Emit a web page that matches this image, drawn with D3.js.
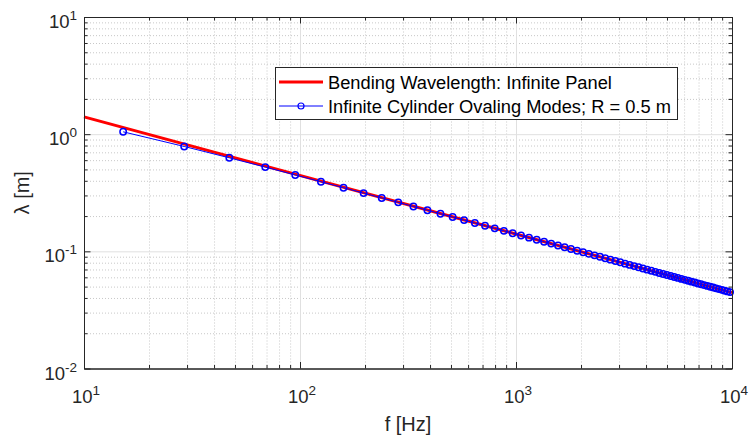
<!DOCTYPE html>
<html><head><meta charset="utf-8">
<script src="https://cdn.jsdelivr.net/npm/d3@7"></script>
<style>
html,body{margin:0;padding:0;background:#fff;}
svg{display:block;font-family:Arial,"Liberation Sans",Helvetica,sans-serif;}
</style></head>
<body>
<svg id="chart" width="749" height="439"></svg>
<script>
// ---- data ----
const xDomain = [10, 10000];
const yDomain = [0.01, 10];
const xMajorTicks = [10, 100, 1000, 10000];
const xTickExp = ["1", "2", "3", "4"];
const yMajorTicks = [0.01, 0.1, 1, 10];
const yTickExp = ["-2", "-1", "0", "1"];

const bendFreq = [10, 10000];
const bendLambda = [1.405, 0.0444];

const modeFreq = [15.18, 29.10, 47.07, 69.05, 95.04, 125.0, 159.0, 197.0, 239.0, 285.0,
  335.0, 389.0, 447.0, 509, 575, 645, 719, 797, 879, 965,
  1055, 1149, 1247, 1349, 1455, 1565, 1679, 1797, 1919, 2045,
  2175, 2309, 2447, 2589, 2735, 2885, 3039, 3197, 3359, 3525,
  3695, 3869, 4047, 4229, 4415, 4605, 4799, 4997, 5199, 5405,
  5615, 5829, 6047, 6269, 6495, 6725, 6959, 7197, 7439, 7685,
  7935, 8189, 8447, 8709, 8975, 9245, 9519, 9797];
const modeLambda = [1.0472, 0.7854, 0.6283, 0.5236, 0.4488, 0.3927, 0.3491, 0.3142, 0.2856, 0.2618,
  0.2417, 0.2244, 0.2094, 0.1963, 0.1848, 0.1745, 0.1653, 0.1571, 0.1496, 0.1428,
  0.1366, 0.1309, 0.1257, 0.1208, 0.1164, 0.1122, 0.1083, 0.1047, 0.1013, 0.0982,
  0.0952, 0.0924, 0.0898, 0.0873, 0.0849, 0.0827, 0.0806, 0.0785, 0.0766, 0.0748,
  0.0731, 0.0714, 0.0698, 0.0683, 0.0668, 0.0654, 0.0641, 0.0628, 0.0616, 0.0604,
  0.0593, 0.0582, 0.0571, 0.0561, 0.0551, 0.0542, 0.0532, 0.0524, 0.0515, 0.0507,
  0.0499, 0.0491, 0.0483, 0.0476, 0.0469, 0.0462, 0.0455, 0.0449];

const legendLabels = ["Bending Wavelength: Infinite Panel", "Infinite Cylinder Ovaling Modes; R = 0.5 m"];
const xLabel = "f [Hz]";
const yLabel = "λ [m]";

// ---- layout ----
const L = 84, R = 732, T = 17, B = 368.5;
const W = R - L, H = B - T;
const axisColor = "#262626";

const svg = d3.select("#chart");
const x = d3.scaleLog().domain(xDomain).range([0, W]);
const y = d3.scaleLog().domain(yDomain).range([H, 0]);

function minors(domain) {
  const out = [];
  for (let d = domain[0]; d < domain[1]; d *= 10) {
    for (let k = 2; k <= 9; k++) out.push(d * k);
  }
  return out;
}
const xMinor = minors(xDomain), yMinor = minors(yDomain);

const g = svg.append("g").attr("transform", `translate(${L},${T})`);

// grid: minor dotted
g.append("g").attr("class", "grid")
  .call(d3.axisBottom(x).tickValues(xMinor).tickSize(-H).tickFormat(""))
  .attr("transform", `translate(0,${H})`)
  .call(s => s.select(".domain").remove())
  .selectAll("line").attr("stroke", "#c8c8c8").attr("stroke-width", 1).attr("stroke-dasharray", "1,2");
g.append("g").attr("class", "grid")
  .call(d3.axisLeft(y).tickValues(yMinor).tickSize(-W).tickFormat(""))
  .call(s => s.select(".domain").remove())
  .selectAll("line").attr("stroke", "#c8c8c8").attr("stroke-width", 1).attr("stroke-dasharray", "1,2");
// grid: major solid
g.append("g").attr("class", "grid")
  .call(d3.axisBottom(x).tickValues(xMajorTicks).tickSize(-H).tickFormat(""))
  .attr("transform", `translate(0,${H})`)
  .call(s => s.select(".domain").remove())
  .selectAll("line").attr("stroke", "#e0e0e0").attr("stroke-width", 1);
g.append("g").attr("class", "grid")
  .call(d3.axisLeft(y).tickValues(yMajorTicks).tickSize(-W).tickFormat(""))
  .call(s => s.select(".domain").remove())
  .selectAll("line").attr("stroke", "#e0e0e0").attr("stroke-width", 1);

// data: red bending line
const line = d3.line().x(d => x(d[0])).y(d => y(d[1]));
g.append("path")
  .datum(bendFreq.map((f, i) => [f, bendLambda[i]]))
  .attr("d", line).attr("fill", "none").attr("stroke", "#ff0000").attr("stroke-width", 3);

// blue modes line + markers
const modes = modeFreq.map((f, i) => [f, modeLambda[i]]);
g.append("path").datum(modes).attr("d", line)
  .attr("fill", "none").attr("stroke", "#0000ff").attr("stroke-width", 1);
g.append("g").selectAll("circle").data(modes).join("circle")
  .attr("cx", d => x(d[0])).attr("cy", d => y(d[1])).attr("r", 3.2)
  .attr("fill", "none").attr("stroke", "#0000ff").attr("stroke-width", 1.5);

// axes with inward ticks
function styleAxis(s) {
  s.select(".domain").attr("stroke", axisColor).attr("stroke-width", 1);
  s.selectAll(".tick line").attr("stroke", axisColor).attr("stroke-width", 1);
}
const majorLen = 6.5, minorLen = 3.5;
g.append("g").attr("transform", `translate(0,${H})`)
  .call(d3.axisBottom(x).tickValues(xMajorTicks).tickSizeInner(-majorLen).tickSizeOuter(0).tickFormat(""))
  .call(styleAxis);
g.append("g").attr("transform", `translate(0,${H})`)
  .call(d3.axisBottom(x).tickValues(xMinor).tickSizeInner(-minorLen).tickSizeOuter(0).tickFormat(""))
  .call(styleAxis);
g.append("g")
  .call(d3.axisTop(x).tickValues(xMajorTicks).tickSizeInner(-majorLen).tickSizeOuter(0).tickFormat(""))
  .call(styleAxis);
g.append("g")
  .call(d3.axisTop(x).tickValues(xMinor).tickSizeInner(-minorLen).tickSizeOuter(0).tickFormat(""))
  .call(styleAxis);
g.append("g")
  .call(d3.axisLeft(y).tickValues(yMajorTicks).tickSizeInner(-majorLen).tickSizeOuter(0).tickFormat(""))
  .call(styleAxis);
g.append("g")
  .call(d3.axisLeft(y).tickValues(yMinor).tickSizeInner(-minorLen).tickSizeOuter(0).tickFormat(""))
  .call(styleAxis);
g.append("g").attr("transform", `translate(${W},0)`)
  .call(d3.axisRight(y).tickValues(yMajorTicks).tickSizeInner(-majorLen).tickSizeOuter(0).tickFormat(""))
  .call(styleAxis);
g.append("g").attr("transform", `translate(${W},0)`)
  .call(d3.axisRight(y).tickValues(yMinor).tickSizeInner(-minorLen).tickSizeOuter(0).tickFormat(""))
  .call(styleAxis);

// tick labels with superscripts
function powLabel(sel, exp) {
  sel.append("tspan").text("10");
  sel.append("tspan").attr("font-size", 13.5).attr("dy", -8).text(exp);
}
xMajorTicks.forEach((v, i) => {
  const t = g.append("text").attr("x", x(v) + 2).attr("y", H + 34)
    .attr("text-anchor", "middle").attr("fill", axisColor).attr("font-size", 18.5);
  powLabel(t, xTickExp[i]);
});
yMajorTicks.forEach((v, i) => {
  const t = g.append("text").attr("x", -7).attr("y", y(v) + 11)
    .attr("text-anchor", "end").attr("fill", axisColor).attr("font-size", 18.5);
  powLabel(t, yTickExp[i]);
});

// axis labels
svg.append("text").attr("x", L + W / 2).attr("y", 431)
  .attr("text-anchor", "middle").attr("fill", axisColor).attr("font-size", 20).text(xLabel);
svg.append("text").attr("transform", `translate(29,${T + H / 2}) rotate(-90)`)
  .attr("text-anchor", "middle").attr("fill", axisColor).attr("font-size", 20).text(yLabel);

// legend
const lg = svg.append("g");
lg.append("rect").attr("x", 275.5).attr("y", 67.5).attr("width", 402).attr("height", 52)
  .attr("fill", "#fff").attr("stroke", axisColor).attr("stroke-width", 1);
const rowsY = [82, 106];
lg.append("line").attr("x1", 279).attr("x2", 323).attr("y1", rowsY[0]).attr("y2", rowsY[0])
  .attr("stroke", "#ff0000").attr("stroke-width", 3);
lg.append("line").attr("x1", 279).attr("x2", 323).attr("y1", rowsY[1]).attr("y2", rowsY[1])
  .attr("stroke", "#0000ff").attr("stroke-width", 1);
lg.append("circle").attr("cx", 301).attr("cy", rowsY[1]).attr("r", 3)
  .attr("fill", "none").attr("stroke", "#0000ff").attr("stroke-width", 1.2);
legendLabels.forEach((s, i) => {
  lg.append("text").attr("x", 328).attr("y", rowsY[i] + 7)
    .attr("font-size", 18.3).attr("fill", "#000").text(s);
});
</script>
</body></html>
